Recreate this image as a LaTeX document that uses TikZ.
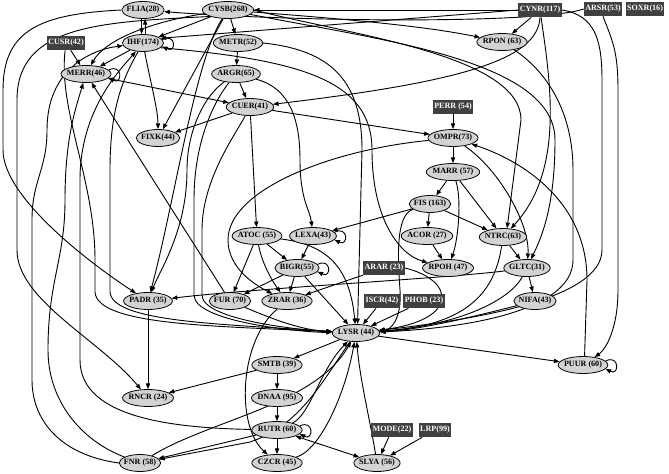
\documentclass[tikz,border=0pt]{standalone}
\usepackage{fontspec}
\setmainfont{Liberation Serif}
\usetikzlibrary{arrows.meta,shapes.geometric,backgrounds}
\definecolor{ggray}{HTML}{D3D3D3}
\definecolor{gdark}{HTML}{404040}

\begin{document}
\begin{tikzpicture}[x=0.05cm, y=-0.05cm,
    gene/.style={ellipse, draw=black, fill=ggray, line width=1.1pt, inner xsep=-2pt, inner ysep=0pt, minimum height=0.85cm, font=\fontsize{11.5}{12}\selectfont\bfseries},
    reg/.style={rectangle, fill=gdark, text=white, inner xsep=2pt, inner ysep=0pt, minimum height=0.72cm, font=\fontsize{11.5}{12}\selectfont\bfseries},
    link/.style={-{Triangle[length=8pt,width=6pt]}, line width=1.3pt},
    twoway/.style={{Triangle[length=8pt,width=6pt]}-{Triangle[length=8pt,width=6pt]}, line width=1.3pt}
]
\useasboundingbox (0,0) rectangle (669,473);

    % Regulators
    \node[reg] (CUSR) at (66,43) {CUSR(42)};
    \node[reg] (CYNR) at (540,10) {CYNR(117)};
    \node[reg] (ARSR) at (603,9) {ARSR(53)};
    \node[reg] (SOXR) at (645,9) {SOXR(16)};
    \node[reg] (PERR) at (453,107) {PERR (54)};
    \node[reg] (ARAR) at (384,268) {ARAR (23)};
    \node[reg] (ISCR) at (382,301) {ISCR(42)};
    \node[reg] (PHOB) at (424,301) {PHOB (23)};
    \node[reg] (MODE) at (392,430) {MODE(22)};
    \node[reg] (LRP) at (435,430) {LRP(99)};

    % Genes
    \node[gene] (FLIA) at (143,10) {FLIA(28)};
    \node[gene] (CYSB) at (228,10) {CYSB(268)};
    \node[gene] (IHF) at (143,43) {IHF(174)};
    \node[gene] (METR) at (238,43) {METR(52)};
    \node[gene] (RPON) at (502,42) {RPON (63)};
    \node[gene] (MERR) at (86,74) {MERR(46)};
    \node[gene] (ARGR) at (236,74) {ARGR(65)};
    \node[gene] (CUER) at (250,107) {CUER(41)};
    \node[gene] (FIXK) at (158,138) {FIXK(44)};
    \node[gene] (OMPR) at (453,138) {OMPR(73)};
    \node[gene] (MARR) at (453,172) {MARR (57)};
    \node[gene] (FIS) at (430,204) {FIS (163)};
    \node[gene] (ATOC) at (257,236) {ATOC (55)};
    \node[gene] (LEXA) at (313,236) {LEXA(43)};
    \node[gene] (ACOR) at (427,236) {ACOR (27)};
    \node[gene] (NTRC) at (503,237) {NTRC(63)};
    \node[gene] (BIGR) at (297,268) {BIGR(55)};
    \node[gene] (RPOH) at (448,268) {RPOH (47)};
    \node[gene] (GLTC) at (527,268) {GLTC(31)};
    \node[gene] (PADR) at (148,301) {PADR (35)};
    \node[gene] (FUR) at (230,301) {FUR (70)};
    \node[gene] (ZRAR) at (287,301) {ZRAR (36)};
    \node[gene] (NIFA) at (535,301) {NIFA(43)};
    \node[gene] (LYSR) at (356,333) {LYSR (44)};
    \node[gene] (SMTB) at (277,365) {SMTB (39)};
    \node[gene] (PUUR) at (583,365) {PUUR (60)};
    \node[gene] (RNCR) at (148,398) {RNCR (24)};
    \node[gene] (DNAA) at (277,398) {DNAA (95)};
    \node[gene] (RUTR) at (277,430) {RUTR (60)};
    \node[gene] (FNR) at (140,463) {FNR (58)};
    \node[gene] (CZCR) at (277,463) {CZCR (45)};
    \node[gene] (SLYA) at (377,463) {SLYA (56)};

    \begin{scope}[on background layer]
    % Top
    \draw[link] ([xshift=-2pt]FLIA.south) -- ([xshift=-2pt]IHF.north);
    \draw[link] ([xshift=3pt]IHF.north) -- ([xshift=3pt]FLIA.south);
    \draw[link] (FLIA.west) .. controls (40,14) and (3,30) .. (3,90) -- (3,150) .. controls (3,200) and (100,270) .. (PADR);
    \draw[link] (ARSR.west) .. controls (540,24) and (300,22) .. (FLIA);
    \draw[link] (CYSB) -- (IHF);
    \draw[link] (CYSB) .. controls (150,22) and (105,40) .. (MERR);
    \draw[link] (CYSB) -- (METR);
    \draw[link] (CYSB) -- (FIXK);
    \draw[link] (CYSB) .. controls (195,60) and (175,200) .. (PADR);
    \draw[link] (CYSB.200) .. controls (100,22) and (17,25) .. (17,100) -- (17,250) .. controls (17,300) and (100,340) .. (RNCR);
    \draw[link] (CYSB) .. controls (330,18) and (420,25) .. (RPON);
    \draw[link] (CYNR) -- (CYSB);
    \draw[link] (CYNR) -- (RPON);
    \draw[link] (CYNR.west) -- (IHF.15);
    \draw[link] (CYNR.south) .. controls (538,60) and (460,82) .. (CUER);
    \draw[link] (CYNR) .. controls (550,80) and (565,170) .. (NTRC);
    \draw[link] (CYNR.east) .. controls (595,15) and (602,40) .. (602,80) -- (602,250) .. controls (602,300) and (470,320) .. (LYSR);
    \draw[link] (ARSR.south) .. controls (612,40) and (618,50) .. (618,90) -- (618,290) .. controls (618,330) and (605,350) .. (PUUR);
    \draw[link] (CYSB.east) .. controls (350,35) and (521,55) .. (521,120) -- (NTRC.65);
    \draw[link] (CYSB) .. controls (380,40) and (555,60) .. (555,140) .. controls (555,210) and (540,240) .. (GLTC);

    % IHF and MERR
    \draw[link] (IHF.10) .. controls +(14,-7) and +(14,7) .. (IHF.-10);
    \draw[link] (IHF) -- (MERR);
    \draw[link] (IHF) .. controls (150,80) and (158,110) .. (FIXK);
    \draw[link] (IHF.-15) .. controls (300,60) and (372,80) .. (372,150) .. controls (372,220) and (400,255) .. (RPOH);
    \draw[link] (RUTR) .. controls (180,428) and (80,420) .. (80,360) -- (80,180) .. controls (80,110) and (120,70) .. (IHF);
    \draw[link] (IHF) .. controls (122,80) and (110,110) .. (110,170) -- (110,292) .. controls (112,322) and (220,324) .. (LYSR);
    \draw[link] (CUSR) .. controls (58,110) and (95,180) .. (95,260) -- (95,292) .. controls (97,326) and (220,326) .. (LYSR);
    \draw[link] (CUSR) -- (MERR);
    \draw[link] (MERR.10) .. controls +(14,-7) and +(14,7) .. (MERR.-10);
    \draw[twoway] (MERR) -- (CUER);
    \draw[link] (FUR) -- (MERR);
    \draw[link] (FNR.west) .. controls (60,455) and (32,420) .. (32,380) -- (32,220) .. controls (32,180) and (47,170) .. (47,130) .. controls (47,70) and (90,50) .. (IHF);
    \draw[link] (FNR) .. controls (80,440) and (48,400) .. (48,350) .. controls (48,280) and (65,260) .. (65,200) .. controls (65,140) and (75,110) .. (MERR);

    % METR, ARGR, CUER
    \draw[link] (METR) -- (ARGR);
    \draw[link] (METR.east) .. controls (330,50) and (362,80) .. (362,150) -- (LYSR.80);
    \draw[link] (ARGR) -- (CUER);
    \draw[link] (ARGR) .. controls (290,88) and (300,120) .. (300,160) .. controls (300,200) and (310,210) .. (LEXA);
    \draw[link] (ARGR) .. controls (205,95) and (187,130) .. (187,170) .. controls (187,230) and (160,270) .. (PADR);
    \draw[link] (ARGR) .. controls (215,100) and (194,140) .. (194,200) -- (194,295) .. controls (194,322) and (300,332) .. (LYSR);
    \draw[link] (CUER) -- (FIXK);
    \draw[link] (CUER) -- (OMPR);
    \draw[link] (CUER) -- (ATOC);
    \draw[link] (CUER) .. controls (235,135) and (202,180) .. (202,230) -- (202,295) .. controls (202,320) and (300,330) .. (LYSR);

    % OMPR, MARR, FIS
    \draw[link] (PERR) -- (OMPR);
    \draw[link] (OMPR) -- (MARR);
    \draw[link] (OMPR) .. controls (330,150) and (228,190) .. (228,240) .. controls (228,268) and (255,285) .. (ZRAR);
    \draw[link] (OMPR) .. controls (500,170) and (530,225) .. (GLTC);
    \draw[link] (PUUR.80) -- (587,280) .. controls (587,200) and (520,160) .. (OMPR);
    \draw[link] (MARR) -- (FIS);
    \draw[link] (MARR) -- (NTRC);
    \draw[link] (MARR) .. controls (462,200) and (458,240) .. (RPOH);
    \draw[link] (FIS) -- (ACOR);
    \draw[link] (FIS) -- (NTRC);
    \draw[link] (FIS) -- (LEXA);
    \draw[link] (FIS) .. controls (395,215) and (398,260) .. (400,290) .. controls (402,320) and (390,330) .. (LYSR);
    \draw[link] (ACOR) -- (RPOH);
    \draw[link] (NTRC) -- (GLTC);
    \draw[link] (NTRC) .. controls (495,290) and (470,325) .. (LYSR);
    \draw[link] (GLTC) -- (NIFA);
    \draw[link] (GLTC) .. controls (450,278) and (260,288) .. (PADR);
    \draw[link] (GLTC) .. controls (510,300) and (460,325) .. (LYSR);
    \draw[link] (NIFA) .. controls (480,315) and (420,330) .. (LYSR);
    \draw[link] (RPON) .. controls (545,70) and (573,110) .. (573,170) -- (573,260) .. controls (573,310) and (470,328) .. (LYSR);

    % ATOC, LEXA, BIGR
    \draw[link] (ATOC) -- (FUR);
    \draw[link] (ATOC) -- (BIGR);
    \draw[link] (ATOC) .. controls (262,265) and (275,285) .. (ZRAR);
    \draw[link] (ATOC) .. controls (330,245) and (350,270) .. (LYSR);
    \draw[link] (LEXA.10) .. controls +(14,-7) and +(14,7) .. (LEXA.-10);
    \draw[link] (LEXA) -- (BIGR);
    \draw[link] (BIGR.10) .. controls +(14,-7) and +(14,7) .. (BIGR.-10);
    \draw[link] (BIGR) -- (FUR);
    \draw[link] (BIGR) -- (ZRAR);
    \draw[link] (BIGR) -- (LYSR);
    \draw[link] (ARAR) -- (ZRAR);
    \draw[link] (ARAR.east) .. controls (455,280) and (460,320) .. (LYSR);
    \draw[link] (ISCR) -- (LYSR);
    \draw[link] (PHOB) -- (LYSR);
    \draw[link] (FUR) .. controls (270,318) and (300,330) .. (LYSR);
    \draw[link] (PADR) -- (RNCR);

    % Below LYSR
    \draw[link] (LYSR) -- (SMTB);
    \draw[link] (LYSR) -- (PUUR);
    \draw[link] (PUUR.10) .. controls +(14,-7) and +(14,7) .. (PUUR.-10);
    \draw[link] (SMTB) -- (DNAA);
    \draw[link] (SMTB) -- (RNCR);
    \draw[link] (DNAA) -- (RUTR);
    \draw[link] (RUTR.10) .. controls +(14,-7) and +(14,7) .. (RUTR.-10);
    \draw[link] (RUTR) -- (CZCR);
    \draw[twoway] (RUTR) -- (SLYA);
    \draw[link] (RUTR) .. controls (310,415) and (320,370) .. (LYSR);
    \draw[link] (RUTR) -- (FNR);
    \draw[link] (LYSR) .. controls (320,385) and (300,425) .. (250,442) -- (FNR);
    \draw[link] (FNR) .. controls (210,420) and (315,405) .. (LYSR);
    \draw[link] (CZCR) .. controls (320,450) and (345,395) .. (LYSR);
    \draw[link] (ZRAR) .. controls (240,340) and (235,425) .. (CZCR);
    \draw[link] (SLYA) .. controls (370,420) and (360,380) .. (LYSR);
    \draw[link] (MODE) -- (SLYA);
    \draw[link] (LRP) -- (SLYA);
    \end{scope}

\end{tikzpicture}
\end{document}
